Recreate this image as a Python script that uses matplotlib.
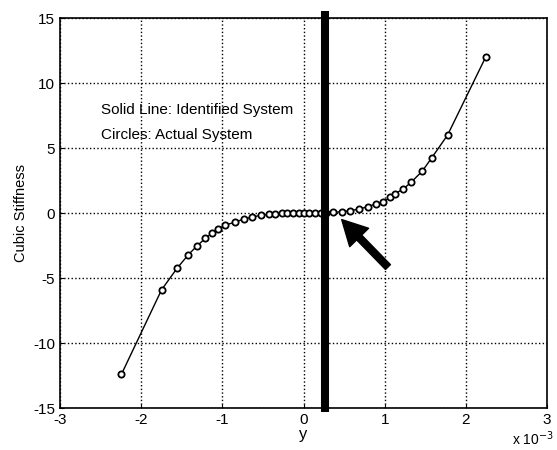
import matplotlib
matplotlib.use("Agg")
import matplotlib.pyplot as plt

plt.rcParams['font.family'] = ['Liberation Sans', 'DejaVu Sans']
plt.rcParams['axes.unicode_minus'] = False

# ── Data (y in units of 1e-3) ──────────────────────────────────────────────
y_disp = [-2.245, -1.75, -1.56, -1.42, -1.31, -1.21, -1.13, -1.05, -0.97,
          -0.85, -0.74, -0.64, -0.52, -0.43, -0.35, -0.27, -0.20, -0.13,
          -0.06, 0.0, 0.07, 0.14, 0.21, 0.28, 0.36, 0.47, 0.57, 0.68, 0.79,
          0.89, 0.98, 1.07, 1.13, 1.23, 1.33, 1.46, 1.58, 1.775, 2.245]
stiffness = [-12.4, -5.9, -4.25, -3.2, -2.5, -1.95, -1.56, -1.25, -0.92,
             -0.72, -0.46, -0.33, -0.15, -0.10, -0.05, -0.03, -0.01, 0.0,
             0.0, 0.0, 0.0, 0.0, 0.01, 0.03, 0.06, 0.10, 0.18, 0.30, 0.49,
             0.70, 0.87, 1.2, 1.5, 1.85, 2.4, 3.2, 4.25, 6.0, 12.0]
marker_x = 0.26
arrow_tail = (1.04, -4.15)
arrow_head = (0.47, -0.5)

fig = plt.figure(figsize=(5.57, 4.5), dpi=100)
ax = fig.add_axes([0.108, 0.093, 0.874, 0.867])

ax.plot(y_disp, stiffness, "k-", lw=1.0)
ax.plot(y_disp, stiffness, "o", ms=4.5, mfc="white", mec="black", mew=1.3)

ax.plot([marker_x, marker_x], [-15.3, 15.5], color="black", lw=5.8,
        solid_capstyle="butt", clip_on=False, zorder=5)

ax.annotate("", xy=arrow_head, xytext=arrow_tail,
            arrowprops=dict(facecolor="black", edgecolor="black", width=5,
                            headwidth=19, headlength=18, shrink=0))

ax.text(-2.5, 7.9, "Solid Line: Identified System", fontsize=11,
        va="center")
ax.text(-2.5, 6.0, "Circles: Actual System", fontsize=11, va="center")

ax.set_xlim(-3, 3)
ax.set_ylim(-15, 15)
ax.set_xticks(range(-3, 4))
ax.set_yticks(range(-15, 16, 5))
ax.tick_params(labelsize=11, direction="in", length=3)
ax.grid(True, color="black", linestyle=":", linewidth=1.0)
for s in ax.spines.values():
    s.set_linewidth(1.2)

ax.set_xlabel("y", fontsize=12, labelpad=0)
ax.set_ylabel("Cubic Stiffness", fontsize=10.5)
fig.text(0.92, 0.01, r"x 10$^{-3}$", fontsize=10)

fig.savefig("out.png", dpi=100)
